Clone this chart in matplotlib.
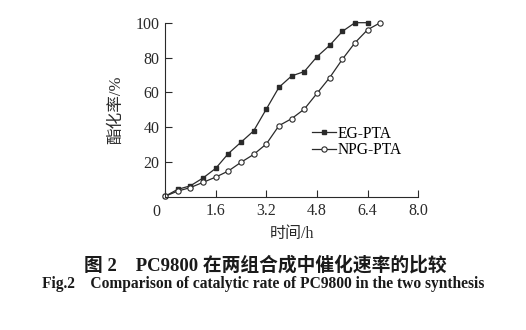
import matplotlib
matplotlib.use('Agg')
import matplotlib.pyplot as plt

plt.rcParams['font.family'] = ['Liberation Serif', 'Noto Sans CJK SC']
plt.rcParams['axes.unicode_minus'] = False

# Esterification rate (%) vs time (h)
eg_time = [0, 0.4, 0.8, 1.2, 1.6, 2.0, 2.4, 2.8, 3.2, 3.6, 4.0, 4.4, 4.8, 5.2, 5.6, 6.0, 6.4]
eg_rate = [0.5, 4.5, 6.5, 11, 16.5, 25, 31.5, 38, 50.5, 63, 69.5, 72, 80.5, 87, 95, 100, 100]
npg_time = [0, 0.4, 0.8, 1.2, 1.6, 2.0, 2.4, 2.8, 3.2, 3.6, 4.0, 4.4, 4.8, 5.2, 5.6, 6.0, 6.4, 6.8]
npg_rate = [0.5, 3.5, 5.5, 8.5, 11.5, 15, 20, 24.5, 30.5, 41, 45, 50.5, 59.5, 68.5, 79, 88.5, 96, 100]

xticks = [0, 1.6, 3.2, 4.8, 6.4, 8.0]
xtick_labels = ['0', '1.6', '3.2', '4.8', '6.4', '8.0']
yticks = [20, 40, 60, 80, 100]

fig = plt.figure(figsize=(5.26, 3.30), dpi=100)
ax = fig.add_axes([165 / 526, 132.8 / 330, 253.3 / 526, 174.5 / 330])

ink = '#2a2a2a'
ax.plot(eg_time, eg_rate, color=ink, lw=0.9, marker='s', ms=3.2,
        mfc=ink, mec=ink, label='EG-PTA', clip_on=False)
ax.plot(npg_time, npg_rate, color=ink, lw=0.9, marker='o', ms=3.8,
        mfc='white', mec=ink, mew=0.8, label='NPG-PTA', clip_on=False)

ax.set_xlim(0, 8.0)
ax.set_ylim(0, 100)
ax.set_xticks(xticks)
ax.set_xticklabels(['' if t == '0' else t for t in xtick_labels])
ax.set_yticks(yticks)
ax.tick_params(direction='in', length=5, width=0.8, colors=ink,
               labelsize=11.5, pad=4)
ax.annotate(xtick_labels[0], xy=(0, 0), xycoords='data', xytext=(-6, -5),
            textcoords='offset points', ha='center', va='top',
            fontsize=11.5, color=ink)

for side in ['top', 'right']:
    ax.spines[side].set_visible(False)
for side in ['left', 'bottom']:
    ax.spines[side].set_color(ink)
    ax.spines[side].set_linewidth(0.8)

ax.set_xlabel('时间/h', fontsize=11.5, color=ink, labelpad=5)
ax.set_ylabel('酯化率/%', fontsize=12, color=ink, labelpad=8)

ax.legend(loc='upper left', bbox_to_anchor=(0.548, 0.455), frameon=False,
          fontsize=11.2, handlelength=1.6, handletextpad=0.05,
          labelspacing=0.05, borderpad=0)

fig.text(265 / 526, 1 - 265 / 330, '图 2    PC9800 在两组合成中催化速率的比较',
         ha='center', va='center', fontsize=13.5, fontweight='bold',
         color='#1a1a1a')
fig.text(263 / 526, 1 - 284 / 330,
         'Fig.2    Comparison of catalytic rate of PC9800 in the two synthesis',
         ha='center', va='center', fontsize=11.2, fontweight='bold',
         color='#1a1a1a')

fig.savefig('out.png', dpi=100)
